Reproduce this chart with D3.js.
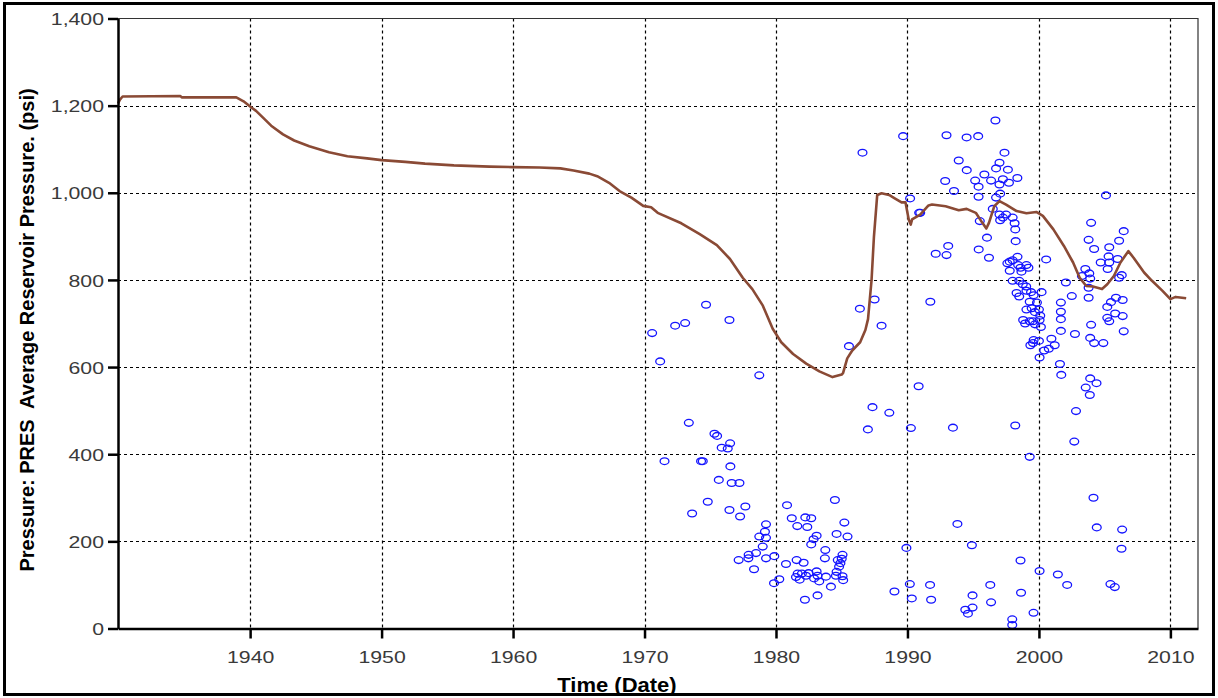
<!DOCTYPE html>
<html>
<head>
<meta charset="utf-8">
<script src="https://cdn.jsdelivr.net/npm/d3@7"></script>
<style>
  html, body { margin: 0; padding: 0; background: #fff; }
  svg { display: block; }
</style>
</head>
<body>
<svg id="chart" width="1218" height="698"></svg>
<script>
// Axis ticks
const yearTicks = [1940, 1950, 1960, 1970, 1980, 1990, 2000, 2010];
const pressureTicks = [0, 200, 400, 600, 800, 1000, 1200, 1400];

// Simulated average reservoir pressure: [decimal year, psi]
const averagePressure = [
  [1929.95,1205],[1930.1,1214],[1930.3,1221],[1934.7,1222],[1934.8,1219],[1938.95,1219],
  [1939.5,1210],[1940.0,1198],[1940.45,1188],[1941.0,1172],[1941.6,1154],[1942.5,1134],
  [1943.35,1120],[1944.5,1107],[1946.0,1093],[1947.4,1084],[1948.9,1079],[1950.0,1075],
  [1951.8,1071],[1953.3,1067],[1955.5,1063],[1958.2,1060],[1960.0,1059],[1962.0,1058],
  [1963.6,1056],[1964.6,1051],[1965.8,1044],[1966.4,1038],[1967.3,1023],[1968.1,1004],
  [1969.0,989],[1969.9,970],[1970.5,967],[1971.0,954],[1972.8,930],[1974.2,905],
  [1975.5,880],[1976.5,848],[1977.47,805],[1978.2,779],[1979.0,741],[1979.75,688],
  [1980.4,657],[1981.3,630],[1982.3,608],[1983.3,590],[1984.3,577],[1985.0,583],
  [1985.1,586],[1985.24,601],[1985.42,620],[1985.8,638],[1986.4,657],[1986.8,685],
  [1987.0,710],[1987.27,800],[1987.45,899],[1987.7,995],[1988.03,999],[1988.6,995],
  [1989.0,988],[1989.55,978],[1989.85,978],[1990.1,938],[1990.25,927],[1990.35,939],
  [1990.97,950],[1991.6,971],[1991.87,973],[1992.9,969],[1993.9,960],[1994.5,963],
  [1995.2,954],[1995.7,931],[1996.0,918],[1996.2,931],[1996.6,969],[1997.0,981],
  [1997.5,973],[1998.3,958],[1999.05,953],[1999.8,956],[2000.3,947],[2001.1,916],
  [2001.9,878],[2002.6,840],[2003.1,805],[2003.6,786],[2004.1,785],[2004.8,779],
  [2005.2,790],[2005.7,809],[2006.2,840],[2006.8,866],[2007.2,851],[2008.0,817],
  [2008.6,798],[2009.4,775],[2010.0,756],[2010.4,761],[2011.2,758]
];

// Measured well pressures: [decimal year, psi]
const measuredPressure = [
  // 1970s
  [1970.58,678],[1971.19,613],[1972.33,695],[1973.09,701],[1974.68,743],[1976.46,708],[1978.73,581],
  [1973.37,472],[1975.32,447],[1975.52,442],[1976.51,425],[1975.87,415],[1976.33,413],[1971.52,384],
  [1974.3,384],[1974.43,384],[1976.53,372],[1975.65,341],[1976.63,334],[1977.22,334],[1974.81,291],
  [1973.62,264],[1976.46,272],[1977.67,280],[1977.27,257],
  // 1978-1986 low group
  [1980.84,283],[1984.48,295],[1981.2,253],[1982.23,255],[1982.68,253],[1979.24,239],[1981.62,235],
  [1982.38,233],[1985.2,243],[1983.09,213],[1984.61,217],[1985.44,211],[1979.16,222],[1978.73,211],
  [1979.24,208],[1982.86,205],[1982.68,193],[1978.99,188],[1978.48,173],[1977.92,169],[1977.16,157],
  [1977.9,161],[1979.24,161],[1979.87,166],[1983.75,180],[1983.72,161],[1985.06,169],[1984.7,157],
  [1980.76,148],[1981.57,157],[1982.1,151],[1978.33,136],[1984.8,142],[1981.65,126],[1981.97,126],
  [1982.48,127],[1983.09,131],[1984.61,130],[1985.06,120],[1981.52,118],[1982.28,121],[1983.16,121],
  [1983.8,119],[1984.56,121],[1985.11,111],[1983.29,108],[1980.25,113],[1979.85,104],[1984.18,96],
  [1982.2,66],[1983.16,76],[1984.9,150],[1985.0,160],[1981.8,112],[1982.9,115],
  // 1985-1990
  [1985.55,648],[1986.38,734],[1987.5,755],[1988.03,695],[1986.58,1092],[1989.67,1130],[1990.2,987],
  [1990.89,954],[1990.85,556],[1987.34,508],[1988.62,495],[1986.99,457],[1989.01,85],
  // 1990-2007 low values
  [1990.26,460],[1993.46,461],[1998.2,466],[1999.3,394],[1993.8,240],[1989.92,185],[1994.9,191],
  [1998.6,156],[2000.05,132],[2001.44,124],[2002.15,100],[2005.44,102],[2005.77,95],[1990.18,102],
  [1991.72,100],[1990.33,69],[1991.8,66],[1996.3,100],[1994.95,76],[1998.64,82],[1996.36,60],
  [1994.4,43],[1994.6,34],[1994.95,48],[1999.59,36],[1997.97,21],[1997.97,8],
  [2002.82,499],[2002.69,429],[2004.15,300],[2004.4,232],[2006.33,227],[2006.28,183],
  // 1990-2000 upper group
  [1992.97,1132],[1994.5,1127],[1995.38,1130],[1996.69,1166],[1997.38,1092],[1993.9,1074],
  [1994.51,1052],[1997.0,1069],[1996.74,1056],[1997.64,1053],[1998.36,1034],[1995.85,1042],
  [1995.15,1028],[1996.36,1028],[1997.26,1031],[1992.87,1027],[1995.41,1014],[1997.0,1019],
  [1997.72,1023],[1993.54,1004],[1995.41,991],[1996.74,989],[1997.05,998],[1990.97,954],
  [1996.49,963],[1997.0,950],[1997.5,950],[1998.0,943],[1997.26,943],[1997.05,937],[1995.5,935],
  [1998.15,930],[1998.2,916],[1996.05,897],[1998.23,889],[1993.1,878],[1992.97,857],[1992.15,860],
  [1995.42,870],[1996.2,851],[1997.78,842],[1998.37,853],[1998.42,834],[1999.05,834],[1997.78,821],
  [1998.67,819],[2000.55,847],[1997.6,838],[1998.0,845],[1998.6,828],[1999.2,828],[1991.74,750],
  // 1998-2002 dense column
  [1998.0,798],[1998.5,798],[1998.77,790],[1999.03,785],[1998.3,770],[1998.5,762],[1999.05,775],
  [1999.4,772],[1999.6,765],[2000.2,772],[1999.3,750],[1999.85,748],[1999.45,735],[2000.0,732],
  [1999.05,732],[1999.7,726],[2000.1,718],[1998.8,708],[1999.3,705],[1999.55,705],[2000.05,708],
  [1998.95,700],[1999.7,698],[2000.15,692],[1999.6,662],[2000.0,660],[1999.35,650],[1999.55,655],
  [2000.95,665],[2001.2,650],[2000.75,642],[2000.4,638],[2000.05,622],
  [2001.67,748],[2001.67,727],[2001.67,710],[2001.67,683],[2002.74,676],[2002.05,794],[2002.5,763],
  [2001.6,607],[2001.7,582],
  // 2003-2007
  [2003.97,931],[2003.78,892],[2004.2,871],[2003.53,825],[2003.83,815],[2003.27,809],[2003.9,803],
  [2003.78,782],[2003.78,759],[2005.1,994],[2005.35,875],[2005.3,854],[2005.35,840],[2004.7,840],
  [2005.23,825],[2006.1,890],[2006.45,912],[2005.99,848],[2006.3,811],[2006.1,805],
  [2005.86,759],[2005.48,749],[2005.2,738],[2006.37,754],[2005.8,723],[2006.37,717],[2005.2,713],
  [2005.35,705],[2006.45,682],
  [2003.97,697],[2003.9,667],[2004.2,655],[2004.9,655],[2003.9,574],[2003.56,553],[2004.38,563],
  [2003.87,536]
];

const svg = d3.select("#chart");
const plot = { left: 118, right: 1198, top: 18.5, bottom: 628.5 };
const textStretch = 1.25;

const x = d3.scaleLinear().domain([1929.95, 2012.1]).range([plot.left, plot.right]);
const y = d3.scaleLinear().domain([0, 1400]).range([plot.bottom, plot.top]);

// Outer frame
svg.append("rect")
  .attr("x", 4.5).attr("y", 3.5)
  .attr("width", 1209).attr("height", 691)
  .attr("fill", "none").attr("stroke", "#000").attr("stroke-width", 3);

// Dashed grid
const grid = svg.append("g").attr("stroke", "#000").attr("stroke-width", 1.2)
  .attr("stroke-dasharray", "3,3");
grid.selectAll("line.v").data(yearTicks).join("line")
  .attr("class", "v")
  .attr("x1", d => Math.round(x(d)) + 0.5).attr("x2", d => Math.round(x(d)) + 0.5)
  .attr("y1", plot.top).attr("y2", plot.bottom);
grid.selectAll("line.h").data(pressureTicks.filter(d => d > 0 && d < 1400)).join("line")
  .attr("class", "h")
  .attr("x1", plot.left).attr("x2", plot.right)
  .attr("y1", d => Math.round(y(d)) + 0.5).attr("y2", d => Math.round(y(d)) + 0.5);

// Plot border (top and right)
svg.append("path")
  .attr("d", `M${plot.left},${plot.top}H${plot.right}V${plot.bottom}`)
  .attr("fill", "none").attr("stroke", "#333").attr("stroke-width", 1.2);

// Measured points
svg.append("g").selectAll("ellipse").data(measuredPressure).join("ellipse")
  .attr("cx", d => x(d[0])).attr("cy", d => y(d[1]))
  .attr("rx", 4.4).attr("ry", 3.4)
  .attr("fill", "none").attr("stroke", "#1414ff").attr("stroke-width", 1.3);

// Average pressure curve
svg.append("path")
  .datum(averagePressure)
  .attr("d", d3.line().x(d => x(d[0])).y(d => y(d[1])))
  .attr("fill", "none").attr("stroke", "#8a4a35").attr("stroke-width", 2.6)
  .attr("stroke-linejoin", "round");

// Axes
const tickFont = "'Liberation Sans', Arial, sans-serif";

const yAxis = svg.append("g").attr("transform", `translate(${plot.left},0)`)
  .call(d3.axisLeft(y).tickValues(pressureTicks).tickSize(10).tickSizeOuter(0)
        .tickFormat(d3.format(",")));
yAxis.select(".domain").attr("stroke", "#000").attr("stroke-width", 2.5);
yAxis.selectAll(".tick line").attr("stroke", "#000").attr("stroke-width", 2.5);
yAxis.selectAll(".tick text")
  .attr("x", null).attr("dy", "0.36em")
  .attr("transform", `translate(-14,0) scale(${textStretch},1)`)
  .attr("font-family", tickFont).attr("font-size", 17).attr("fill", "#3a3a3a");

const xAxis = svg.append("g").attr("transform", `translate(0,${plot.bottom})`)
  .call(d3.axisBottom(x).tickValues(yearTicks).tickSize(10).tickSizeOuter(0)
        .tickFormat(d3.format("d")));
xAxis.select(".domain").attr("stroke", "#000").attr("stroke-width", 2.5);
xAxis.selectAll(".tick line").attr("stroke", "#000").attr("stroke-width", 2.5);
xAxis.selectAll(".tick text")
  .attr("y", null).attr("dy", null)
  .attr("transform", `translate(0,34) scale(${textStretch},1)`)
  .attr("font-family", tickFont).attr("font-size", 17).attr("fill", "#3a3a3a");

// Axis titles
svg.append("text")
  .attr("transform", "translate(617,692) scale(1.1,1)")
  .attr("text-anchor", "middle")
  .attr("font-family", tickFont).attr("font-weight", "bold").attr("font-size", 20)
  .attr("fill", "#000")
  .text("Time (Date)");

svg.append("text")
  .attr("transform", "translate(34,330) rotate(-90)")
  .attr("text-anchor", "middle")
  .attr("font-family", tickFont).attr("font-weight", "bold").attr("font-size", 20)
  .attr("fill", "#000")
  .style("white-space", "pre")
  .text("Pressure: PRES  Average Reservoir Pressure. (psi)");
</script>
</body>
</html>
